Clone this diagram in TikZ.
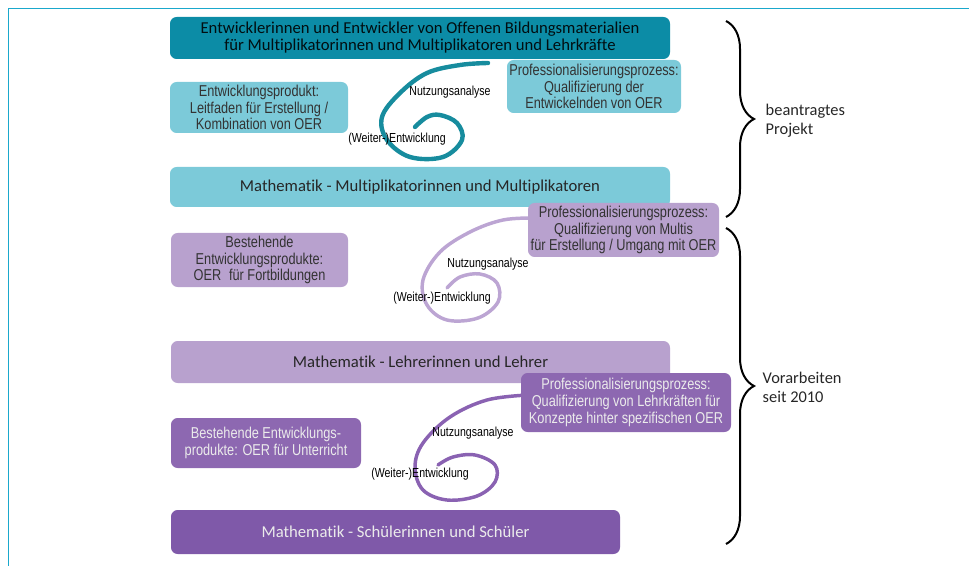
\documentclass[tikz,border=0pt]{standalone}
\usepackage{fontspec}
\setmainfont{Carlito}[Ligatures=NoCommon]
\newfontfamily\schmal[FakeStretch=0.81]{Liberation Sans}
\usetikzlibrary{decorations.pathreplacing}
\definecolor{rahmenblau}{HTML}{1AA8CC}
\definecolor{tuerkis}{HTML}{0C8CA6}
\definecolor{hellblau}{HTML}{7CCAD9}
\definecolor{tuerkisspur}{HTML}{178C9E}
\definecolor{lilahell}{HTML}{B8A1CE}
\definecolor{lilamittel}{HTML}{8D68B1}
\definecolor{liladunkel}{HTML}{7F59A9}
\definecolor{lilaspur}{HTML}{BCA5D3}
\definecolor{lilaspurdunkel}{HTML}{8A62B2}
\begin{document}
\begin{tikzpicture}[x=0.75pt,y=-0.75pt,
  balken/.style={rounded corners=5pt, inner sep=0pt, align=center, font=\fontsize{12.5}{12.8}\selectfont, text=black!85},
  kasten/.style={rounded corners=5pt, inner sep=0pt, align=center, font=\schmal\fontsize{11.8}{12.6}\selectfont, text=black!80},
  marke/.style={inner sep=1pt, font=\schmal\fontsize{9.8}{10}\selectfont},
  spirale/.style={line width=3pt, line cap=round},
  klammer/.style={decorate, decoration={brace, amplitude=21pt}, line width=1.5pt},
  notiz/.style={anchor=west, align=left, font=\fontsize{12.3}{14.3}\selectfont, text=black!85}]
	\useasboundingbox (0,0) rectangle (969,566);
	% Rahmen
	\draw[rahmenblau, line width=1.2pt] (969,8.5) -- (8.5,8.5) -- (8.5,566);
	
	% Spiralen
	\draw[spirale, tuerkisspur, line width=3.3pt] plot[smooth, tension=0.6] coordinates {(488,63) (460,65) (427,73) (400,93) (382,117) (387,140) (410,157) (443,157) (462,140) (457,123) (440,115) (427,117) (415,127)};
	\draw[spirale, lilaspur, line width=2.6pt] plot[smooth, tension=0.6] coordinates {(535,218) (503,220) (470,232) (440,252) (423,280) (427,305) (447,320) (478,318) (498,302) (497,283) (480,274) (460,277) (447,288)};
	\draw[spirale, lilaspurdunkel, line width=2.6pt] plot[smooth, tension=0.6] coordinates {(528,395) (487,400) (450,417) (423,443) (415,467) (423,490) (447,500) (477,496) (495,482) (495,465) (475,455) (453,457) (438,465)};
	
	% Ebene 1: beantragtes Projekt
	\node[balken, fill=tuerkis, text=black!90!tuerkis, minimum width=375pt, minimum height=31.5pt] (entwickler) at (420,38) {Entwicklerinnen und Entwickler von Offenen Bildungsmaterialien\\für Multiplikatorinnen und Multiplikatoren und Lehrkräfte};
	\node[kasten, fill=hellblau, minimum width=130.5pt, minimum height=39.75pt] (prof1) at (594,86.5) {Professionalisierungsprozess:\\Qualifizierung der\\Entwickelnden von OER};
	\node[kasten, fill=hellblau, minimum width=133.5pt, minimum height=38.25pt] (produkt1) at (259,107.5) {Entwicklungsprodukt:\\Leitfaden für Erstellung /\\Kombination von OER};
	\node[marke] (nutzung1) at (450,92) {Nutzungsanalyse};
	\node[marke] (weiter1) at (397,139) {(Weiter-)Entwicklung};
	\node[balken, fill=hellblau, minimum width=375pt, minimum height=30pt] (multis) at (420,187) {Mathematik - Multiplikatorinnen und Multiplikatoren};
	
	% Ebene 2
	\node[kasten, fill=lilahell, minimum width=143.25pt, minimum height=40.5pt] (prof2) at (623.5,230) {Professionalisierungsprozess:\\Qualifizierung von Multis\\für Erstellung / Umgang mit OER};
	\node[kasten, fill=lilahell, minimum width=132.75pt, minimum height=40.5pt] (produkt2) at (259.5,260) {Bestehende\\Entwicklungsprodukte:\\OER\enspace für Fortbildungen};
	\node[marke] (nutzung2) at (488,264) {Nutzungsanalyse};
	\node[marke] (weiter2) at (442,298) {(Weiter-)Entwicklung};
	\node[balken, fill=lilahell, minimum width=374.25pt, minimum height=31.5pt] (lehrer) at (420.5,362) {Mathematik - Lehrerinnen und Lehrer};
	
	% Ebene 3
	\node[kasten, fill=lilamittel, text=white!92!black, minimum width=157.5pt, minimum height=44.25pt] (prof3) at (626,402.5) {Professionalisierungsprozess:\\Qualifizierung von Lehrkräften für\\Konzepte hinter spezifischen OER};
	\node[kasten, fill=lilamittel, text=white!92!black, minimum width=142.5pt, minimum height=37.5pt] (produkt3) at (266,443) {Bestehende Entwicklungs-\\produkte: OER für Unterricht};
	\node[marke] (nutzung3) at (473,433) {Nutzungsanalyse};
	\node[marke] (weiter3) at (420,474) {(Weiter-)Entwicklung};
	\node[balken, fill=liladunkel, text=white!92!black, minimum width=336.75pt, minimum height=33pt] (schueler) at (395.5,532) {Mathematik - Schülerinnen und Schüler};
	
	% Klammern
	\draw[klammer] (726,21) -- (726,217);
	\draw[klammer] (726,228) -- (726,544);
	\node[notiz] (projekt) at (761,121) {beantragtes\\Projekt};
	\node[notiz] (vorarbeiten) at (758,387) {Vorarbeiten\\seit 2010};
\end{tikzpicture}
\end{document}
